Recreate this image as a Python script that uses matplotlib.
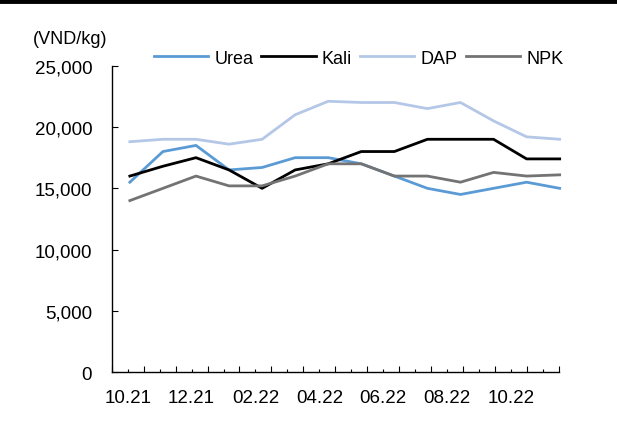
import numpy as np
import matplotlib.pyplot as plt
from matplotlib.lines import Line2D

plt.rcParams['font.family'] = ['Liberation Sans', 'DejaVu Sans']

months = ['10.21', '11.21', '12.21', '01.22', '02.22', '03.22', '04.22',
          '05.22', '06.22', '07.22', '08.22', '09.22', '10.22', '11.22']
urea = [15500, 18000, 18500, 16500, 16700, 17500, 17500, 17000, 16000, 15000, 14500, 15000, 15500, 15000]
kali = [16000, 16800, 17500, 16500, 15000, 16500, 17000, 18000, 18000, 19000, 19000, 19000, 17400, 17400]
dap = [18800, 19000, 19000, 18600, 19000, 21000, 22100, 22000, 22000, 21500, 22000, 20500, 19200, 19000]
npk = [14000, 15000, 16000, 15200, 15200, 16000, 17000, 17000, 16000, 16000, 15500, 16300, 16000, 16100]

fig = plt.figure(figsize=(6.17, 4.27), dpi=100)
ax = fig.add_axes([0.181, 0.1258, 0.725, 0.718])

# thick rule at the very top
fig.add_artist(Line2D([0, 1], [0.996, 0.996], color='black', lw=3.5, transform=fig.transFigure))

x = np.arange(len(months))
ax.plot(x, urea, color='#5b9bd5', lw=2, label='Urea', clip_on=False)
ax.plot(x, kali, color='black', lw=2, label='Kali', clip_on=False)
ax.plot(x, dap, color='#b4c7e7', lw=2, label='DAP', clip_on=False)
ax.plot(x, npk, color='#737373', lw=2, label='NPK', clip_on=False)

xmin, xmax = -0.55, 12.98
ax.set_xlim(xmin, xmax)
ax.set_ylim(0, 25000)
ax.set_yticks(np.arange(0, 25001, 5000))
ax.yaxis.set_major_formatter(plt.FuncFormatter(lambda v, p: f'{int(v):,}'))

edges = np.linspace(xmin, xmax, len(months) + 1)
centers = (edges[:-1] + edges[1:]) / 2
ax.set_xticks(edges)
ax.set_xticklabels([])
ax.set_xticks(centers, minor=True)
ax.set_xticklabels([m if i % 2 == 0 else '' for i, m in enumerate(months)], minor=True)

ax.tick_params(axis='x', which='major', direction='in', length=4.5, width=0.8)
ax.tick_params(axis='x', which='minor', direction='in', length=2.2, width=0.8, pad=12, labelsize=13.5)
ax.tick_params(axis='y', direction='in', length=4.5, width=0.8, pad=14, labelsize=13.5)

for s in ['top', 'right']:
    ax.spines[s].set_visible(False)
for s in ['left', 'bottom']:
    ax.spines[s].set_linewidth(1)

fig.text(0.053, 0.907, '(VND/kg)', fontsize=13, va='center', ha='left')
ax.legend(loc='center', bbox_to_anchor=(0.552, 1.025), ncol=4, frameon=False,
          fontsize=13, handlelength=3.0, handletextpad=0.35, columnspacing=0.45,
          borderaxespad=0)

fig.savefig('out.png', dpi=100)
